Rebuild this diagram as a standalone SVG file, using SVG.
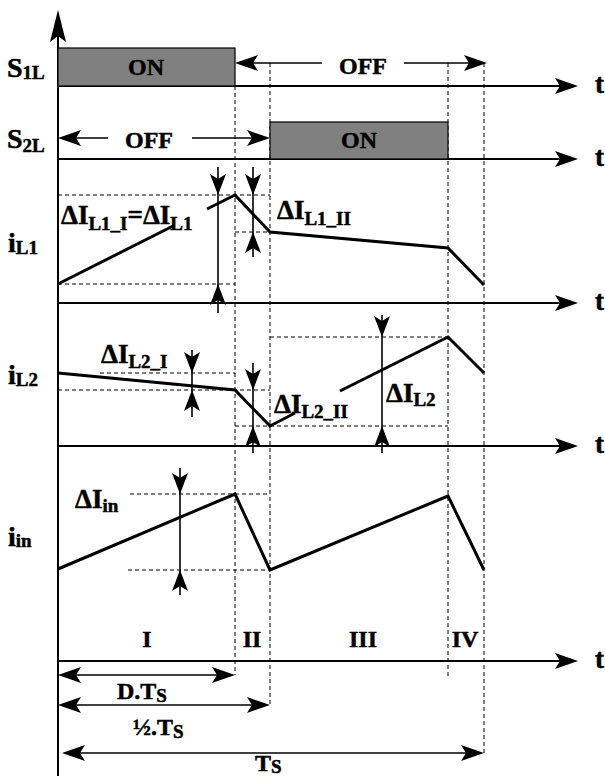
<svg xmlns="http://www.w3.org/2000/svg" xmlns:xlink="http://www.w3.org/1999/xlink" width="605" height="776" viewBox="0 0 605 776">
<style>
.ax{stroke:#000;stroke-width:2;fill:none}
.wf{stroke:#000;stroke-width:3;fill:none;stroke-linejoin:miter}
.ds{stroke:#000;stroke-width:1;stroke-dasharray:4 3;fill:none}
.ms{stroke:#000;stroke-width:1.6;fill:none}
.tx{font-family:"Liberation Serif","Times New Roman",serif;font-weight:bold;fill:#000;stroke:#000;stroke-width:0.5;font-size:24px}
.dl{font-size:27px}
.lb{font-size:28px}
.tt{font-size:27px}
.sb{font-size:19px}
.mid{text-anchor:middle}
.sw{fill:#808080;stroke:#000;stroke-width:1.2}
</style>
<defs>
<path id="ah" d="M0,0 L-23,-8 L-18,0 L-23,8 Z" fill="#000"/>
<path id="am" d="M0,0 L-21,-8 L-16,0 L-21,8 Z" fill="#000"/>
</defs>
<rect width="605" height="776" fill="#fff"/>

<g id="axes">
<line class="ax" x1="58" y1="36" x2="58" y2="776"/>
<path d="M58,10 L66,42 L58,36 L50,42 Z" fill="#000"/>
<line class="ax" x1="58" y1="86" x2="562" y2="86"/><use xlink:href="#ah" transform="translate(578,86)"/>
<line class="ax" x1="58" y1="159" x2="562" y2="159"/><use xlink:href="#ah" transform="translate(578,159)"/>
<line class="ax" x1="58" y1="303" x2="562" y2="303"/><use xlink:href="#ah" transform="translate(578,303)"/>
<line class="ax" x1="58" y1="446" x2="562" y2="446"/><use xlink:href="#ah" transform="translate(578,446)"/>
<line class="ax" x1="58" y1="661" x2="562" y2="661"/><use xlink:href="#ah" transform="translate(578,661)"/>
<text class="tx tt" x="595" y="93">t</text>
<text class="tx tt" x="595" y="166">t</text>
<text class="tx tt" x="595" y="310">t</text>
<text class="tx tt" x="595" y="453">t</text>
<text class="tx tt" x="595" y="668">t</text>
</g>

<g id="guides">
<line class="ds" x1="235" y1="86" x2="235" y2="675"/>
<line class="ds" x1="270" y1="63" x2="270" y2="705"/>
<line class="ds" x1="448" y1="63" x2="448" y2="677"/>
<line class="ds" x1="484" y1="63" x2="484" y2="753"/>
<line class="ds" x1="58" y1="195" x2="270" y2="195"/>
<line class="ds" x1="58" y1="284" x2="235" y2="284"/>
<line class="ds" x1="235" y1="232" x2="270" y2="232"/>
<line class="ds" x1="100" y1="373" x2="235" y2="373"/>
<line class="ds" x1="58" y1="390" x2="270" y2="390"/>
<line class="ds" x1="235" y1="426" x2="448" y2="426"/>
<line class="ds" x1="270" y1="337" x2="448" y2="337"/>
<line class="ds" x1="130" y1="494" x2="270" y2="494"/>
<line class="ds" x1="128" y1="570" x2="270" y2="570"/>
</g>

<g id="s1l">
<text class="tx lb" x="7" y="77">S<tspan class="sb" dy="2">1L</tspan></text>
<rect class="sw" x="58" y="48" width="177" height="38"/>
<text class="tx mid" x="146" y="75">ON</text>
<line class="ms" x1="240" y1="63" x2="322" y2="63"/><use xlink:href="#ah" transform="translate(235,63) rotate(180)"/>
<text class="tx mid" x="363" y="74">OFF</text>
<line class="ms" x1="404" y1="63" x2="480" y2="63"/><use xlink:href="#ah" transform="translate(487,63)"/>
</g>

<g id="s2l">
<text class="tx lb" x="7" y="148">S<tspan class="sb" dy="4">2L</tspan></text>
<rect class="sw" x="270" y="122" width="178" height="37"/>
<text class="tx mid" x="359" y="148">ON</text>
<line class="ms" x1="62" y1="138" x2="108" y2="138"/><use xlink:href="#ah" transform="translate(58,138) rotate(180)"/>
<text class="tx mid" x="149" y="148">OFF</text>
<line class="ms" x1="192" y1="138" x2="264" y2="138"/><use xlink:href="#ah" transform="translate(270,138)"/>
</g>

<g id="il1">
<text class="tx lb" x="8" y="252">i<tspan class="sb" dy="2">L1</tspan></text>
<polyline class="wf" points="58,284 173,226"/>
<polyline class="wf" points="207,209 235,195 270,232 448,248 484,285"/>
<line class="ms" x1="218" y1="167" x2="218" y2="313"/>
<use xlink:href="#am" transform="translate(218,195) rotate(90)"/>
<use xlink:href="#am" transform="translate(218,284) rotate(-90)"/>
<line class="ms" x1="253" y1="167" x2="253" y2="257"/>
<use xlink:href="#am" transform="translate(253,195) rotate(90)"/>
<use xlink:href="#am" transform="translate(253,232) rotate(-90)"/>
<text class="tx dl" x="61" y="224">ΔI<tspan class="sb" dy="6">L1_I</tspan><tspan dy="-6">=ΔI</tspan><tspan class="sb" dy="6">L1</tspan></text>
<text class="tx dl" x="277" y="219">ΔI<tspan class="sb" dy="6">L1_II</tspan></text>
</g>

<g id="il2">
<text class="tx lb" x="8" y="384">i<tspan class="sb" dy="2">L2</tspan></text>
<polyline class="wf" points="58,373 235,390 270,426 295,413"/>
<polyline class="wf" points="340,391 448,337 484,373"/>
<line class="ms" x1="192" y1="350" x2="192" y2="417"/>
<use xlink:href="#am" transform="translate(192,373) rotate(90)"/>
<use xlink:href="#am" transform="translate(192,390) rotate(-90)"/>
<line class="ms" x1="253" y1="363" x2="253" y2="453"/>
<use xlink:href="#am" transform="translate(253,390) rotate(90)"/>
<use xlink:href="#am" transform="translate(253,426) rotate(-90)"/>
<line class="ms" x1="382" y1="315" x2="382" y2="453"/>
<use xlink:href="#am" transform="translate(382,337) rotate(90)"/>
<use xlink:href="#am" transform="translate(382,426) rotate(-90)"/>
<text class="tx dl" x="101" y="363">ΔI<tspan class="sb" dy="5">L2_I</tspan></text>
<text class="tx dl" x="274" y="413">ΔI<tspan class="sb" dy="5">L2_II</tspan></text>
<text class="tx dl" x="386" y="402">ΔI<tspan class="sb" dy="4">L2</tspan></text>
</g>

<g id="iin">
<text class="tx lb" x="8" y="546">i<tspan class="sb" dy="1">in</tspan></text>
<polyline class="wf" points="58,569 235,494 270,570 448,496 484,570"/>
<line class="ms" x1="180" y1="468" x2="180" y2="595"/>
<use xlink:href="#am" transform="translate(180,494) rotate(90)"/>
<use xlink:href="#am" transform="translate(180,570) rotate(-90)"/>
<text class="tx dl" x="75" y="508">ΔI<tspan class="sb" dy="4">in</tspan></text>
</g>

<g id="intervals">
<text class="tx mid" x="147" y="647">I</text>
<text class="tx mid" x="252" y="647">II</text>
<text class="tx mid" x="363" y="647">III</text>
<text class="tx mid" x="465" y="647">IV</text>
<line class="ms" x1="64" y1="675" x2="229" y2="675"/>
<use xlink:href="#ah" transform="translate(58,675) rotate(180)"/>
<use xlink:href="#ah" transform="translate(235,675)"/>
<text class="tx" x="117" y="699">D.T<tspan class="sb" dy="3">S</tspan></text>
<line class="ms" x1="64" y1="705" x2="264" y2="705"/>
<use xlink:href="#ah" transform="translate(58,705) rotate(180)"/>
<use xlink:href="#ah" transform="translate(270,705)"/>
<text class="tx" x="133" y="735">½.T<tspan class="sb" dy="3">S</tspan></text>
<line class="ms" x1="68" y1="753" x2="478" y2="753"/>
<use xlink:href="#ah" transform="translate(62,753) rotate(180)"/>
<use xlink:href="#ah" transform="translate(484,753)"/>
<text class="tx" x="255" y="771">T<tspan class="sb" dy="2">S</tspan></text>
</g>
</svg>
